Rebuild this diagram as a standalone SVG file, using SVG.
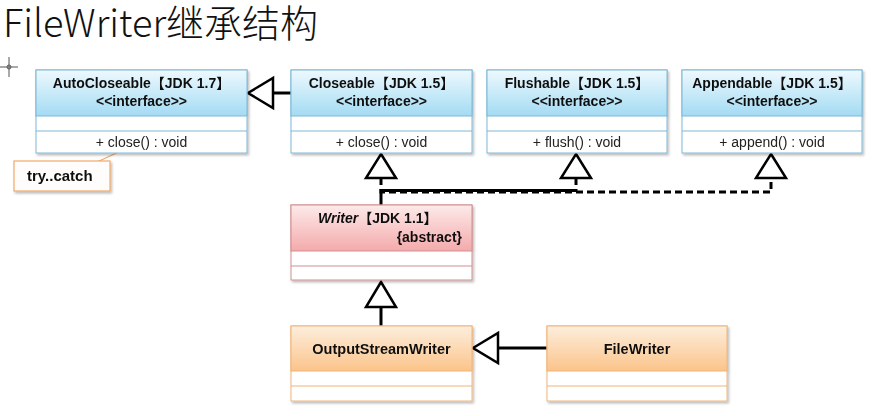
<svg xmlns="http://www.w3.org/2000/svg" width="889" height="416" viewBox="0 0 889 416">
<defs>
<linearGradient id="gBlue" x1="0" y1="0" x2="0" y2="1"><stop offset="0" stop-color="#eef9fe"/><stop offset="1" stop-color="#a3dbf3"/></linearGradient>
<linearGradient id="gRed" x1="0" y1="0" x2="0" y2="1"><stop offset="0" stop-color="#fdeaea"/><stop offset="1" stop-color="#f4aaab"/></linearGradient>
<linearGradient id="gOrange" x1="0" y1="0" x2="0" y2="1"><stop offset="0" stop-color="#fdeedd"/><stop offset="1" stop-color="#fbc48a"/></linearGradient>
<filter id="sh" x="-10%" y="-10%" width="125%" height="130%"><feDropShadow dx="1.5" dy="2" stdDeviation="1.2" flood-color="#000" flood-opacity="0.25"/></filter>
</defs>
<style>
text{font-family:"Liberation Sans","Noto Sans CJK SC",sans-serif;fill:#111;}
.t{font-size:14px;font-weight:bold;text-anchor:middle;}
.m{font-size:14px;text-anchor:middle;fill:#222;}
.blue{stroke:#7cb8d6;stroke-width:1;}
.red{stroke:#d08f90;stroke-width:1;}
.org{stroke:#f0b47a;stroke-width:1;}
.line{fill:none;stroke:#000;stroke-width:3;}
.dash{fill:none;stroke:#000;stroke-width:3;stroke-dasharray:7,4;}
.tri{fill:#fff;stroke:#000;stroke-width:2.5;stroke-linejoin:miter;}
</style>
<rect width="889" height="416" fill="#fff"/>
<text x="3" y="37" style="font-family:'Noto Sans CJK SC','Noto Sans',sans-serif;font-size:38px;font-weight:300;fill:#111">FileWriter继承结构</text>
<g id="crosshair" stroke="#555" stroke-width="1" fill="none"><line x1="9" y1="57" x2="9" y2="77"/><line x1="0" y1="67" x2="18" y2="67"/><circle cx="9" cy="67" r="2"/></g>

<g id="connectors">
<path class="line" d="M273,93 H291"/>
<path class="tri" d="M248,93 L273,78 L273,108 Z"/>
<path class="dash" d="M381,178 V192 H771 V178"/>
<path class="dash" d="M576,178 V192"/>
<path class="line" d="M381,205 V190.5 H576"/>
<path class="tri" d="M381,154 L396,178 L366,178 Z"/>
<path class="tri" d="M576,154 L591,178 L561,178 Z"/>
<path class="tri" d="M771,154 L786,178 L756,178 Z"/>
<path class="line" d="M381,307 V326"/>
<path class="tri" d="M381,282 L396,307 L366,307 Z"/>
<path class="line" d="M498,348 H547"/>
<path class="tri" d="M473,348 L498,333 L498,363 Z"/>
<path d="M97,162 L123,150" stroke="#f0a868" stroke-width="1.2" fill="none"/>
</g>

<g id="autocloseable" filter="url(#sh)">
<rect x="36" y="70" width="211" height="83" fill="#fff" class="blue"/>
<rect x="36" y="70" width="211" height="46" fill="url(#gBlue)" class="blue"/>
<line x1="36" y1="131" x2="247" y2="131" class="blue"/>
<text class="t" x="141.5" y="88">AutoCloseable【JDK 1.7】</text>
<text class="t" x="141.5" y="106">&lt;&lt;interface&gt;&gt;</text>
<text class="m" x="141.5" y="147">+ close() : void</text>
</g>
<g id="closeable" filter="url(#sh)">
<rect x="291" y="70" width="181" height="83" fill="#fff" class="blue"/>
<rect x="291" y="70" width="181" height="46" fill="url(#gBlue)" class="blue"/>
<line x1="291" y1="131" x2="472" y2="131" class="blue"/>
<text class="t" x="381.5" y="88">Closeable【JDK 1.5】</text>
<text class="t" x="381.5" y="106">&lt;&lt;interface&gt;&gt;</text>
<text class="m" x="381.5" y="147">+ close() : void</text>
</g>
<g id="flushable" filter="url(#sh)">
<rect x="487" y="70" width="180" height="83" fill="#fff" class="blue"/>
<rect x="487" y="70" width="180" height="46" fill="url(#gBlue)" class="blue"/>
<line x1="487" y1="131" x2="667" y2="131" class="blue"/>
<text class="t" x="577" y="88">Flushable【JDK 1.5】</text>
<text class="t" x="577" y="106">&lt;&lt;interface&gt;&gt;</text>
<text class="m" x="577" y="147">+ flush() : void</text>
</g>
<g id="appendable" filter="url(#sh)">
<rect x="682" y="70" width="180" height="83" fill="#fff" class="blue"/>
<rect x="682" y="70" width="180" height="46" fill="url(#gBlue)" class="blue"/>
<line x1="682" y1="131" x2="862" y2="131" class="blue"/>
<text class="t" x="772" y="88">Appendable【JDK 1.5】</text>
<text class="t" x="772" y="106">&lt;&lt;interface&gt;&gt;</text>
<text class="m" x="772" y="147">+ append() : void</text>
</g>
<g id="trycatch" filter="url(#sh)">
<rect x="14" y="161" width="96" height="30" fill="#fffdfb" stroke="#f0a868" stroke-width="1.2"/>
<text x="27" y="181" style="font-size:15px;font-weight:bold">try..catch</text>
</g>
<g id="writer" filter="url(#sh)">
<rect x="291" y="205" width="181" height="75" fill="#fff" class="red"/>
<rect x="291" y="205" width="181" height="46" fill="url(#gRed)" class="red"/>
<line x1="291" y1="266" x2="472" y2="266" class="red"/>
<text x="318" y="223" style="font-size:14px;font-weight:bold"><tspan font-style="italic">Writer</tspan>【JDK 1.1】</text>
<text x="462" y="242" style="font-size:14px;font-weight:bold;text-anchor:end">{abstract}</text>
</g>
<g id="outputstreamwriter" filter="url(#sh)">
<rect x="291" y="326" width="181" height="75" fill="#fff" class="org"/>
<rect x="291" y="326" width="181" height="45" fill="url(#gOrange)" class="org"/>
<line x1="291" y1="386" x2="472" y2="386" class="org"/>
<text class="t" x="381.5" y="354" style="font-size:14.5px">OutputStreamWriter</text>
</g>
<g id="filewriter" filter="url(#sh)">
<rect x="547" y="326" width="180" height="75" fill="#fff" class="org"/>
<rect x="547" y="326" width="180" height="45" fill="url(#gOrange)" class="org"/>
<line x1="547" y1="386" x2="727" y2="386" class="org"/>
<text class="t" x="637" y="354" style="font-size:14.5px">FileWriter</text>
</g>
</svg>
